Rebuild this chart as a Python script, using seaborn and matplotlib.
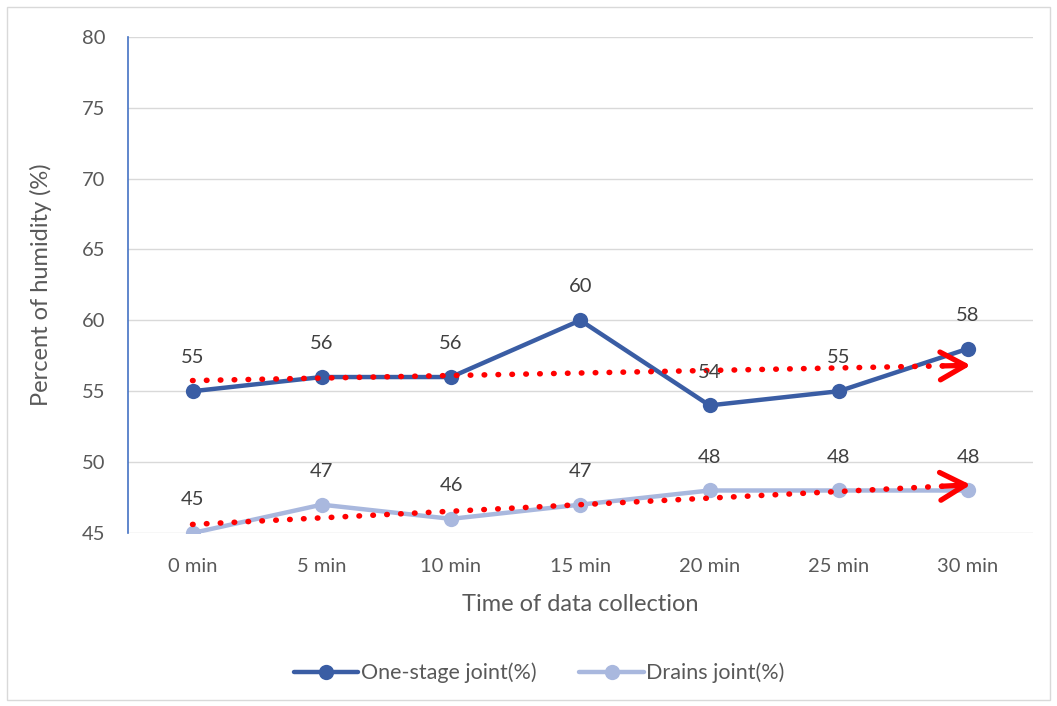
import numpy as np
import pandas as pd
import matplotlib
matplotlib.use('Agg')
import matplotlib.pyplot as plt
import matplotlib.patches as mpatches
import seaborn as sns

times = ['0 min', '5 min', '10 min', '15 min', '20 min', '25 min', '30 min']
one_stage = [55, 56, 56, 60, 54, 55, 58]
drains = [45, 47, 46, 47, 48, 48, 48]
series_names = ['One-stage joint(%)', 'Drains joint(%)']
colors = ['#3A5DA4', '#A9B8DE']

sns.set_style('white')
plt.rcParams['font.family'] = ['Lato', 'DejaVu Sans']

df = pd.DataFrame({
    'time': times * 2,
    'value': one_stage + drains,
    'series': [series_names[0]] * len(times) + [series_names[1]] * len(times),
})

fig = plt.figure(figsize=(10.57, 7.06), dpi=100)
ax = fig.add_axes([0.121, 0.245, 0.856, 0.703])

sns.lineplot(data=df, x='time', y='value', hue='series', palette=colors,
             marker='o', markersize=11, markeredgewidth=0, linewidth=3.2,
             sort=False, legend=False, ax=ax, zorder=3)

# linear trend lines with arrow heads
xs = np.arange(len(times))
for vals in (one_stage, drains):
    k, b = np.polyfit(xs, vals, 1)
    fit = k * xs + b
    ax.plot(xs, fit, color='#FF0000', linewidth=4,
            linestyle=(0, (0.1, 2.4)), dash_capstyle='round', zorder=4)
    ax.annotate('', xy=(xs[-1] + 0.02, fit[-1] + k * 0.02),
                xytext=(xs[-1] - 0.2, fit[-1] - k * 0.2),
                arrowprops=dict(arrowstyle='->,head_length=1.8,head_width=1.0',
                                color='#FF0000', lw=3.8, shrinkA=0, shrinkB=0,
                                joinstyle='round', capstyle='round'),
                zorder=5)

# data labels
for vals in (one_stage, drains):
    for i, v in enumerate(vals):
        ax.annotate(str(v), (i, v), xytext=(0, 24), textcoords='offset points',
                    ha='center', va='center', fontsize=14.5, color='#404040',
                    zorder=6)

ax.set_xlim(-0.5, len(times) - 0.5)
ax.set_ylim(45, 80)
ax.set_yticks(range(45, 81, 5))
ax.yaxis.grid(True, color='#D9D9D9', linewidth=1)
ax.xaxis.grid(False)
for s in ('top', 'right', 'bottom'):
    ax.spines[s].set_visible(False)
ax.spines['left'].set_color('#4472C4')
ax.spines['left'].set_linewidth(1.2)
ax.tick_params(axis='both', length=0, labelsize=14.5, labelcolor='#595959')
ax.tick_params(axis='x', pad=18)
ax.tick_params(axis='y', pad=16)
ax.set_xlabel('Time of data collection', fontsize=17, color='#595959', labelpad=14)
ax.set_ylabel('Percent of humidity (%)', fontsize=17, color='#595959', labelpad=22)

handles = [plt.Line2D([], [], color=c, marker='o', markersize=11, markeredgewidth=0,
                      linewidth=3.2) for c in colors]
fig.legend(handles, series_names, loc='center', bbox_to_anchor=(0.51, 0.047),
           ncol=2, frameon=False, fontsize=15.5, labelcolor='#595959',
           handlelength=3.0, handletextpad=0.1, columnspacing=2.0)

fig.patches.append(mpatches.Rectangle((0.007, 0.008), 0.986, 0.982, transform=fig.transFigure,
                                      fill=False, edgecolor='#D9D9D9', linewidth=1))

fig.savefig('out.png', dpi=100)
